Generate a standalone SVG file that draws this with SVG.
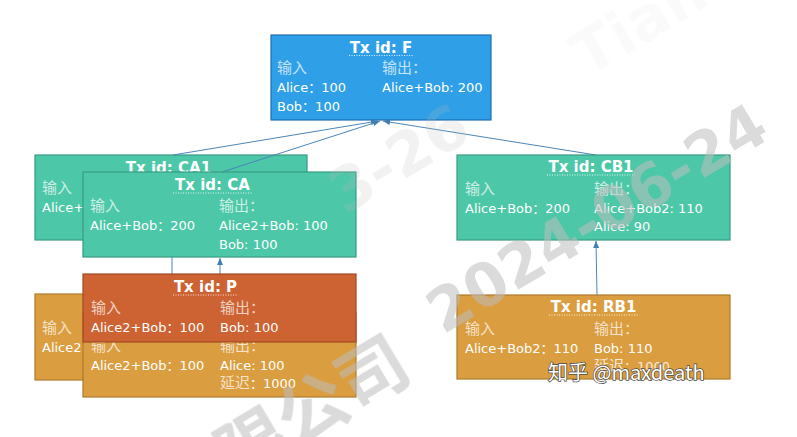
<svg xmlns="http://www.w3.org/2000/svg" width="797" height="437" viewBox="0 0 797 437">
<defs>
<style>
.bx-blue{fill:#2FA0E7;stroke:#1D6FB3;stroke-width:1.2}
.bx-teal{fill:#4CC7A8;stroke:#379B82;stroke-width:1.2}
.bx-red{fill:#CD6232;stroke:#A44A22;stroke-width:1.2}
.bx-org{fill:#DA9D3F;stroke:#AD7A2C;stroke-width:1.2}
.t{font-family:"DejaVu Sans","Noto Sans CJK SC",sans-serif;fill:#fff}
.ti{font-weight:bold;font-size:15px;text-anchor:middle}
.lb{font-size:15px;fill-opacity:0.72}
.v{font-size:13px}
.ul{stroke:#fff;stroke-width:1;stroke-dasharray:1 1.5;opacity:0.85}
.conn{stroke:#4A86B8;stroke-width:1;fill:none}
.wm{font-family:"DejaVu Sans","Noto Sans CJK SC",sans-serif;font-weight:bold;fill:#bdbdbd}
</style>
<marker id="ah" markerWidth="7" markerHeight="6" refX="7" refY="3" orient="auto" markerUnits="userSpaceOnUse">
<path d="M0,0 L7,3 L0,6 z" fill="#3F7DB3"/>
</marker>
<clipPath id="clipL"><rect x="30" y="140" width="53" height="260"/></clipPath>
</defs>
<rect width="797" height="437" fill="#fff"/>

<g id="node-F">
<rect class="bx-blue" x="271" y="35" width="220" height="85"/>
<text class="t ti" x="381" y="52.5">Tx id: F</text>
<line class="ul" x1="349" y1="55.5" x2="413" y2="55.5"/>
<text class="t lb" x="277" y="72.5">输入</text>
<text class="t lb" x="382" y="72.5">输出：</text>
<text class="t v" x="277" y="92">Alice：100</text>
<text class="t v" x="382" y="92">Alice+Bob: 200</text>
<text class="t v" x="277" y="111">Bob：100</text>
</g>

<g id="node-CA1">
<rect class="bx-teal" x="35" y="155" width="272" height="85"/>
<text class="t ti" x="168.5" y="172.5">Tx id: CA1</text>
<text class="t lb" x="42" y="193">输入</text>
<text class="t v" x="42" y="212" clip-path="url(#clipL)">Alice+Bob：200</text>
</g>

<g id="connectors">
<line class="conn" x1="173" y1="155" x2="378" y2="121" marker-end="url(#ah)"/>
<line class="conn" x1="222" y1="172" x2="380" y2="121" marker-end="url(#ah)"/>
<line class="conn" x1="596" y1="155" x2="383" y2="121" marker-end="url(#ah)"/>
<line class="conn" x1="220" y1="274" x2="220" y2="258" marker-end="url(#ah)"/>
<line class="conn" x1="172" y1="257" x2="172" y2="274"/>
<line class="conn" x1="597" y1="295" x2="596" y2="241" marker-end="url(#ah)"/>
</g>

<g id="node-CA">
<rect class="bx-teal" x="83" y="172" width="273" height="85"/>
<text class="t ti" x="212.5" y="190">Tx id: CA</text>
<line class="ul" x1="173" y1="193" x2="252" y2="193"/>
<text class="t lb" x="90" y="211">输入</text>
<text class="t lb" x="219" y="211">输出：</text>
<text class="t v" x="90" y="230">Alice+Bob：200</text>
<text class="t v" x="219" y="230">Alice2+Bob: 100</text>
<text class="t v" x="219" y="249">Bob: 100</text>
</g>

<g id="node-CB1">
<rect class="bx-teal" x="457" y="155" width="273" height="85"/>
<text class="t ti" x="591" y="172">Tx id: CB1</text>
<line class="ul" x1="547" y1="175" x2="635" y2="175"/>
<text class="t lb" x="465" y="194">输入</text>
<text class="t lb" x="594" y="194">输出：</text>
<text class="t v" x="465" y="213">Alice+Bob：200</text>
<text class="t v" x="594" y="213">Alice+Bob2: 110</text>
<text class="t v" x="594" y="231">Alice: 90</text>
</g>

<g id="node-R-left">
<rect class="bx-org" x="35" y="294" width="272" height="86"/>
<text class="t lb" x="42" y="333">输入</text>
<text class="t v" x="42" y="352" clip-path="url(#clipL)">Alice2+Bob：100</text>
</g>

<g id="node-R">
<rect class="bx-org" x="83" y="313" width="273" height="84"/>
<text class="t lb" x="91" y="351">输入</text>
<text class="t lb" x="220" y="351">输出：</text>
<text class="t v" x="91" y="370">Alice2+Bob：100</text>
<text class="t v" x="220" y="370">Alice: 100</text>
<text class="t v" x="220" y="388"><tspan class="lb" style="fill-opacity:0.72">延迟</tspan>：1000</text>
</g>

<g id="node-P">
<rect class="bx-red" x="83" y="274" width="273" height="68"/>
<text class="t ti" x="205.5" y="292">Tx id: P</text>
<line class="ul" x1="173" y1="295" x2="238" y2="295"/>
<text class="t lb" x="91" y="313">输入</text>
<text class="t lb" x="220" y="313">输出：</text>
<text class="t v" x="91" y="332">Alice2+Bob：100</text>
<text class="t v" x="220" y="332">Bob: 100</text>
</g>

<g id="node-RB1">
<rect class="bx-org" x="457" y="295" width="273" height="84"/>
<text class="t ti" x="593.5" y="312">Tx id: RB1</text>
<line class="ul" x1="549" y1="315" x2="638" y2="315"/>
<text class="t lb" x="465" y="334">输入</text>
<text class="t lb" x="594" y="334">输出：</text>
<text class="t v" x="465" y="353">Alice+Bob2：110</text>
<text class="t v" x="594" y="353">Bob: 110</text>
<text class="t v" x="594" y="371" fill-opacity="0.8"><tspan style="font-size:15px">延迟</tspan>：1000</text>
</g>

<g id="watermark" opacity="0.55">
<text class="wm" x="0" y="0" font-size="60" transform="translate(443,335) rotate(-31)">2024-06-24</text>
<text class="wm" x="-22" y="18" font-size="70" text-anchor="end" transform="translate(425,350) rotate(-31)">限公司</text>
<text class="wm" x="345" y="215" font-size="60" opacity="0.35" transform="rotate(-31 345 215)">3-26</text>
<text class="wm" x="588" y="78" font-size="60" opacity="0.12" transform="rotate(-31 588 78)">Tian</text>
</g>
<text x="548" y="380" font-family="'Noto Sans CJK SC','Noto Sans',sans-serif" font-size="20" fill="#fff" stroke="#4a4a4a" stroke-width="1.4" paint-order="stroke">知乎 @maxdeath</text>
</svg>
